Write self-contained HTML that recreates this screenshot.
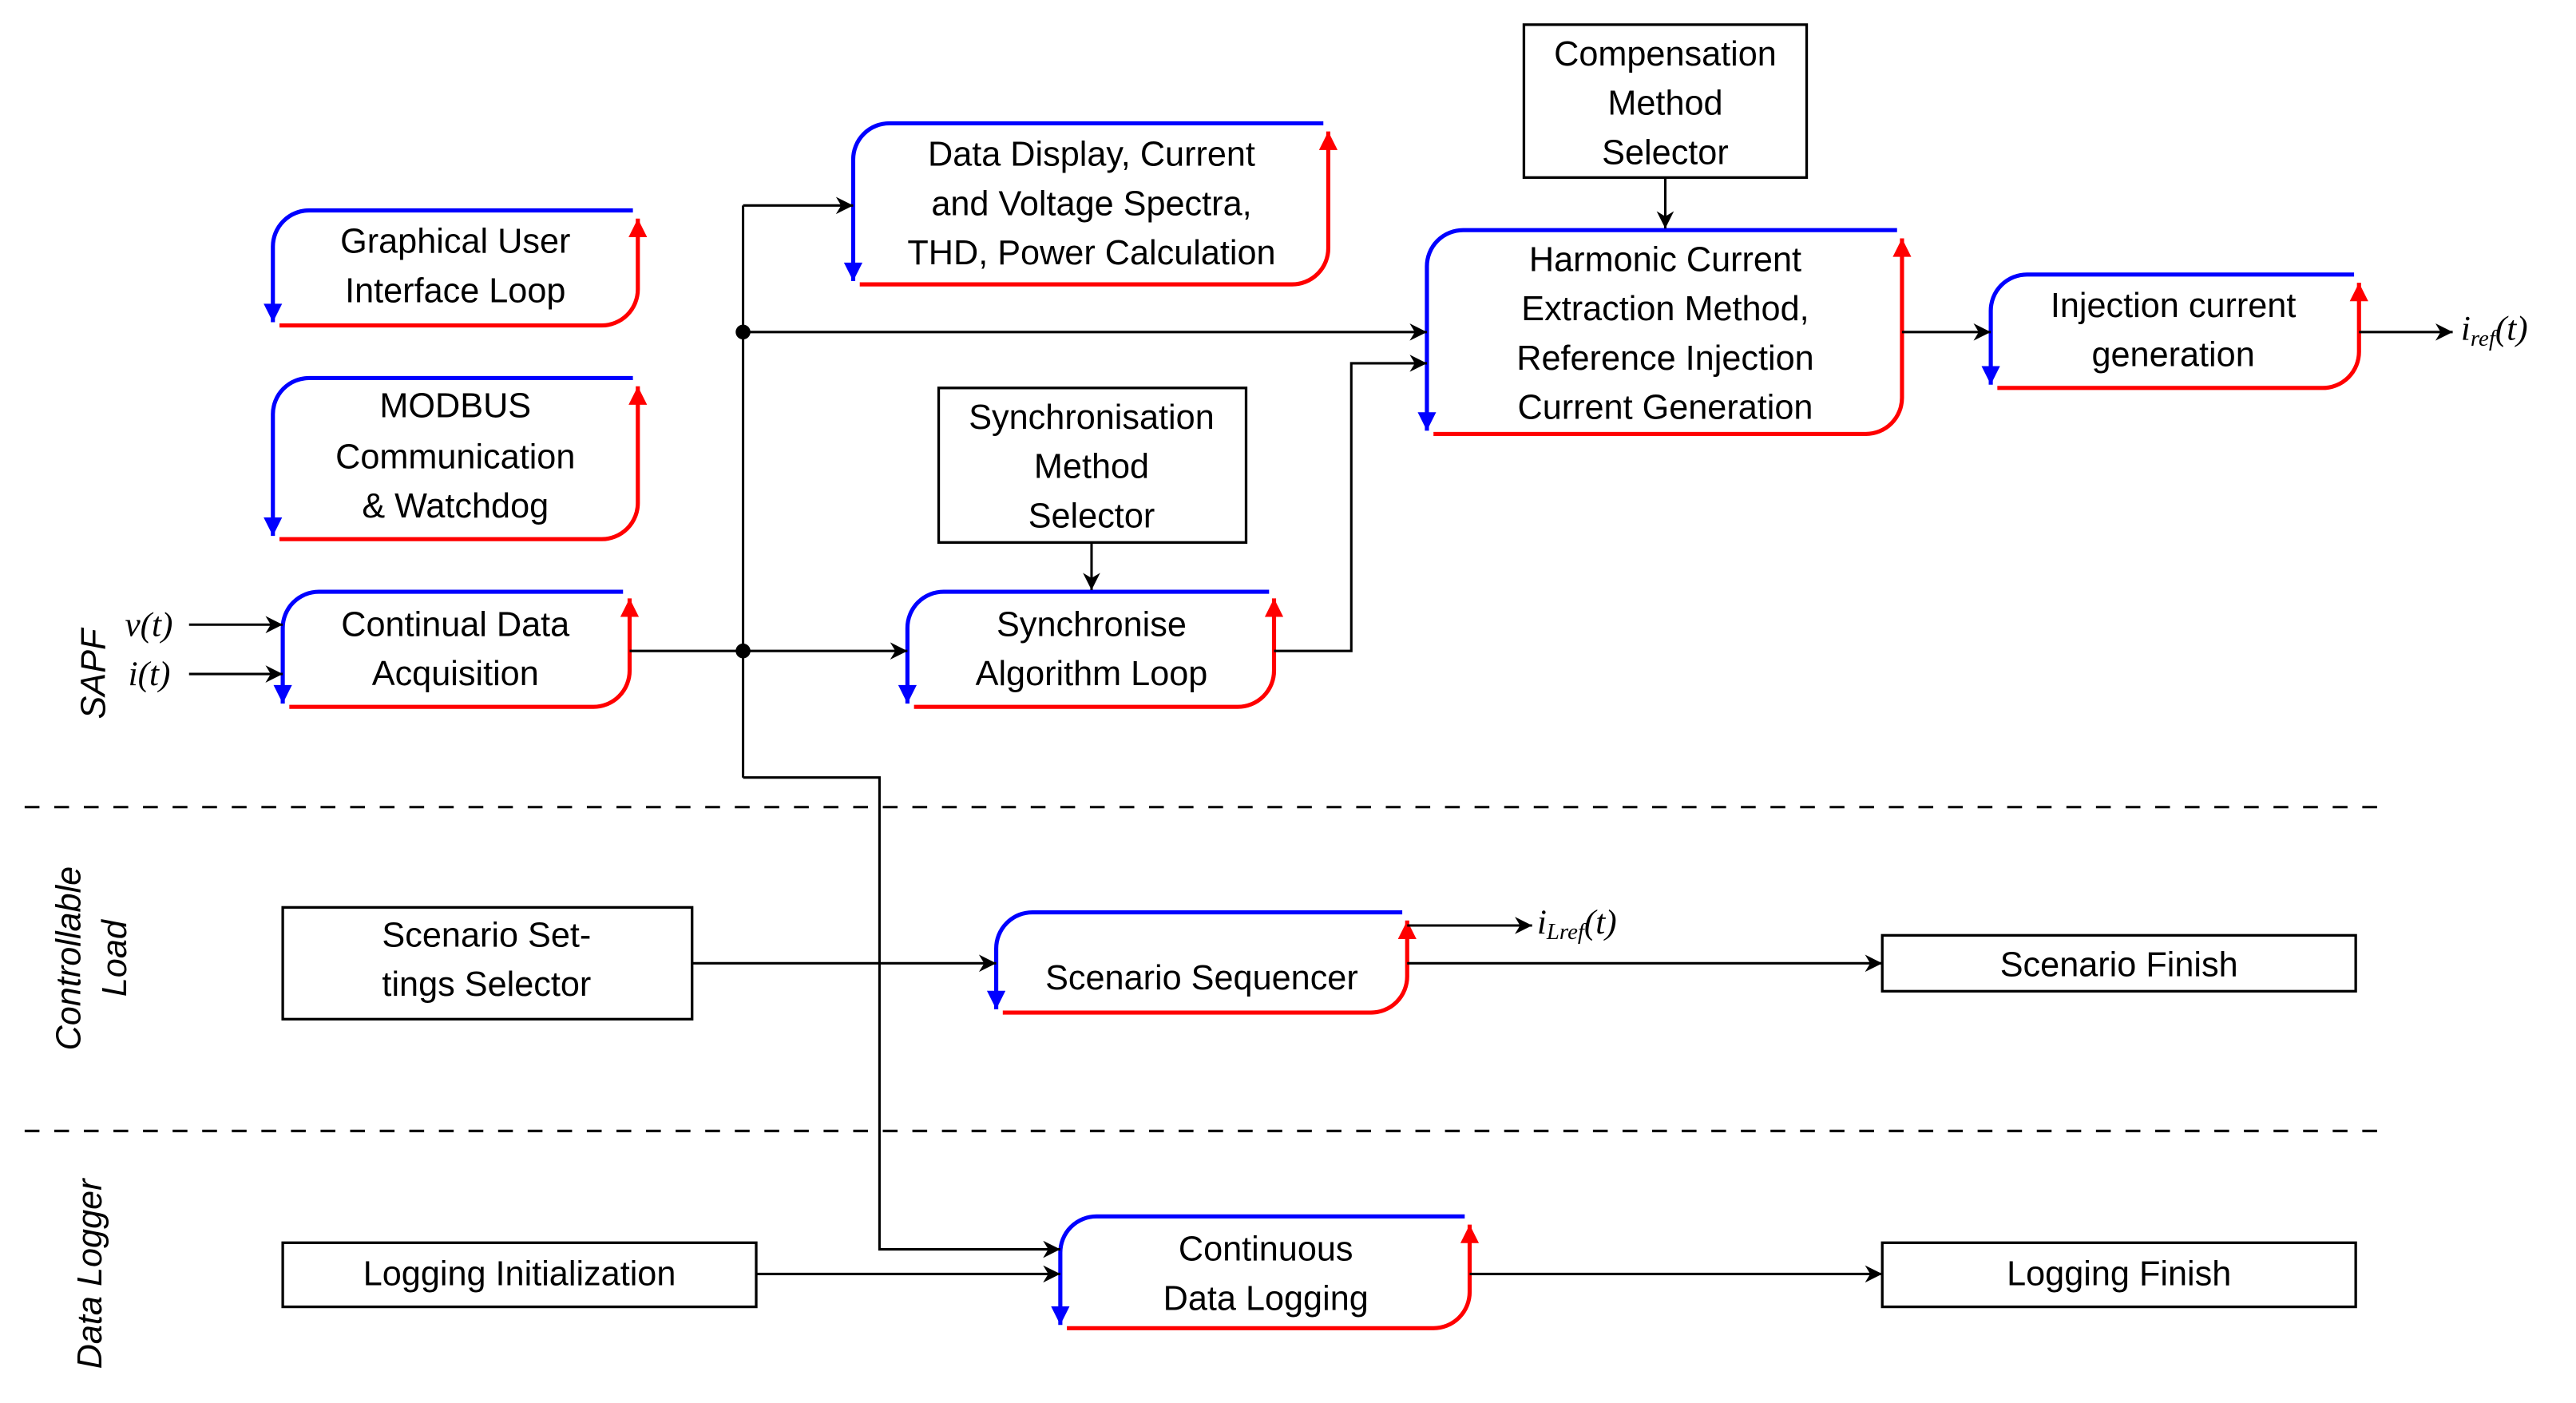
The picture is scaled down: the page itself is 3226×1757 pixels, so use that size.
<!DOCTYPE html>
<html><head><meta charset="utf-8"><style>
html,body{margin:0;padding:0;background:#fff}
svg{display:block}
text{font-family:"Liberation Sans",sans-serif;font-size:21px;fill:#000}
.m{font-family:"Liberation Serif",serif;font-style:italic;font-size:21px}
.lab{font-style:italic;font-size:21px}
</style></head><body>
<svg width="3226" height="1757" viewBox="0 0 1567 853.5" preserveAspectRatio="none" xmlns="http://www.w3.org/2000/svg">
<defs>
<marker id="ab" viewBox="0 0 10 10" refX="10" refY="5" markerWidth="5.5" markerHeight="4.5" markerUnits="strokeWidth" orient="auto"><path d="M0,0 L10,5 L0,10 z" fill="#0000ff"/></marker>
<marker id="ar" viewBox="0 0 10 10" refX="10" refY="5" markerWidth="5.5" markerHeight="4.5" markerUnits="strokeWidth" orient="auto"><path d="M0,0 L10,5 L0,10 z" fill="#ff0000"/></marker>
<marker id="ak" viewBox="0 0 10 10" refX="10" refY="5" markerWidth="7" markerHeight="7" markerUnits="strokeWidth" orient="auto"><path d="M0,0 L10,5 L0,10 L3,5 z" fill="#000"/></marker>
</defs>
<g fill="none" stroke-width="2.5">
<path stroke="#00f" marker-end="url(#ab)" d="M385,128 H188 A22,22 0 0 0 166,150 V196"/>
<path stroke="#f00" marker-end="url(#ar)" d="M170,198 H366 A22,22 0 0 0 388,176 V133"/>
<path stroke="#00f" marker-end="url(#ab)" d="M385,230 H188 A22,22 0 0 0 166,252 V326"/>
<path stroke="#f00" marker-end="url(#ar)" d="M170,328 H366 A22,22 0 0 0 388,306 V235"/>
<path stroke="#00f" marker-end="url(#ab)" d="M379,360 H194 A22,22 0 0 0 172,382 V428"/>
<path stroke="#f00" marker-end="url(#ar)" d="M176,430 H361 A22,22 0 0 0 383,408 V364"/>
<path stroke="#00f" marker-end="url(#ab)" d="M805,75 H541 A22,22 0 0 0 519,97 V171"/>
<path stroke="#f00" marker-end="url(#ar)" d="M523,173 H786 A22,22 0 0 0 808,151 V80"/>
<path stroke="#00f" marker-end="url(#ab)" d="M772,360 H574 A22,22 0 0 0 552,382 V428"/>
<path stroke="#f00" marker-end="url(#ar)" d="M556,430 H753 A22,22 0 0 0 775,408 V364"/>
<path stroke="#00f" marker-end="url(#ab)" d="M1154,140 H890 A22,22 0 0 0 868,162 V262"/>
<path stroke="#f00" marker-end="url(#ar)" d="M872,264 H1135 A22,22 0 0 0 1157,242 V145"/>
<path stroke="#00f" marker-end="url(#ab)" d="M1432,167 H1233 A22,22 0 0 0 1211,189 V234"/>
<path stroke="#f00" marker-end="url(#ar)" d="M1215,236 H1413 A22,22 0 0 0 1435,214 V172"/>
<path stroke="#00f" marker-end="url(#ab)" d="M853,555 H628 A22,22 0 0 0 606,577 V614"/>
<path stroke="#f00" marker-end="url(#ar)" d="M610,616 H834 A22,22 0 0 0 856,594 V560"/>
<path stroke="#00f" marker-end="url(#ab)" d="M891,740 H667 A22,22 0 0 0 645,762 V806"/>
<path stroke="#f00" marker-end="url(#ar)" d="M649,808 H872 A22,22 0 0 0 894,786 V745"/>
</g>
<g fill="none" stroke="#000" stroke-width="1.6">
<rect x="927" y="15" width="172" height="93"/>
<rect x="571" y="236" width="187" height="94"/>
<rect x="172" y="552" width="249" height="68"/>
<rect x="1145" y="569" width="288" height="34"/>
<rect x="172" y="756" width="288" height="39"/>
<rect x="1145" y="756" width="288" height="39"/>
</g>
<g fill="none" stroke="#000" stroke-width="1.5">
<path marker-end="url(#ak)" d="M115,380 H172"/>
<path marker-end="url(#ak)" d="M115,410 H172"/>
<path d="M383,396 H452 M452,125 V473"/>
<path marker-end="url(#ak)" d="M452,125 H519"/>
<path marker-end="url(#ak)" d="M452,202 H868"/>
<path marker-end="url(#ak)" d="M452,396 H552"/>
<path marker-end="url(#ak)" d="M452,473 H535 V760 H645"/>
<path marker-end="url(#ak)" d="M664,330 V359"/>
<path marker-end="url(#ak)" d="M775,396 H822 V221 H868"/>
<path marker-end="url(#ak)" d="M1013,108 V139"/>
<path marker-end="url(#ak)" d="M1157,202 H1211"/>
<path marker-end="url(#ak)" d="M1435,202 H1492"/>
<path marker-end="url(#ak)" d="M421,586 H606"/>
<path marker-end="url(#ak)" d="M856,563 H932"/>
<path marker-end="url(#ak)" d="M856,586 H1145"/>
<path marker-end="url(#ak)" d="M460,775 H645"/>
<path marker-end="url(#ak)" d="M894,775 H1145"/>
<path stroke-dasharray="9,9" d="M15,491 H1450 M15,688 H1450"/>
</g>
<circle cx="452" cy="202" r="4.5"/><circle cx="452" cy="396" r="4.5"/>
<g text-anchor="middle" dominant-baseline="central">
<text x="277" y="147">Graphical User</text><text x="277" y="177">Interface Loop</text>
<text x="277" y="247">MODBUS</text><text x="277" y="278">Communication</text><text x="277" y="308">&amp; Watchdog</text>
<text x="277" y="380">Continual Data</text><text x="277" y="410">Acquisition</text>
<text x="664" y="94">Data Display, Current</text><text x="664" y="124">and Voltage Spectra,</text><text x="664" y="154">THD, Power Calculation</text>
<text x="664" y="254">Synchronisation</text><text x="664" y="284">Method</text><text x="664" y="314">Selector</text>
<text x="664" y="380">Synchronise</text><text x="664" y="410">Algorithm Loop</text>
<text x="1013" y="33">Compensation</text><text x="1013" y="63">Method</text><text x="1013" y="93">Selector</text>
<text x="1013" y="158">Harmonic Current</text><text x="1013" y="188">Extraction Method,</text><text x="1013" y="218">Reference Injection</text><text x="1013" y="248">Current Generation</text>
<text x="1322" y="186">Injection current</text><text x="1322" y="216">generation</text>
<text x="296" y="569">Scenario Set-</text><text x="296" y="599">tings Selector</text>
<text x="731" y="595">Scenario Sequencer</text>
<text x="1289" y="587">Scenario Finish</text>
<text x="316" y="775">Logging Initialization</text>
<text x="770" y="760">Continuous</text><text x="770" y="790">Data Logging</text>
<text x="1289" y="775">Logging Finish</text>
<text class="lab" transform="translate(57,410) rotate(-90)">SAPF</text>
<text class="lab" transform="translate(42,583) rotate(-90)">Controllable</text>
<text class="lab" transform="translate(70,583) rotate(-90)">Load</text>
<text class="lab" transform="translate(55,775) rotate(-90)">Data Logger</text>
</g>
<g dominant-baseline="central">
<text class="m" x="76" y="380">v(t)</text>
<text class="m" x="78" y="410">i(t)</text>
<text class="m" x="1497" y="200">i<tspan font-size="14" dy="6">ref</tspan><tspan dy="-6">(t)</tspan></text>
<text class="m" x="935" y="561">i<tspan font-size="14" dy="6">Lref</tspan><tspan dy="-6">(t)</tspan></text>
</g>
</svg>
</body></html>
